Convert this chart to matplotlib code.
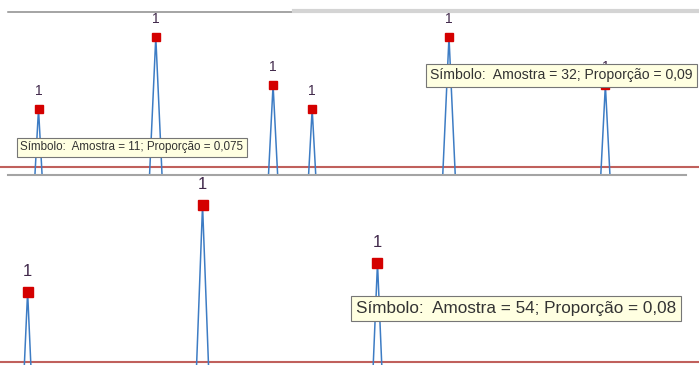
import matplotlib
matplotlib.use("Agg")
import matplotlib.pyplot as plt
from matplotlib.lines import Line2D

# top strip of the p chart (samples 8..46)
samples_top = list(range(8, 47))
prop_top = [0.01, 0.005, 0.0, 0.075, 0.0, 0.01, 0.005, 0.01, 0.0, 0.09,
            0.0, 0.005, 0.01, 0.005, 0.0, 0.08, 0.0, 0.075, 0.0, 0.01,
            0.005, 0.01, 0.005, 0.0, 0.09, 0.0, 0.01, 0.005, 0.01, 0.005,
            0.01, 0.0, 0.08, 0.0, 0.005, 0.01, 0.005, 0.01, 0.005]

# bottom strip (samples 33..72)
samples_bot = list(range(33, 73))
prop_bot = [0.01, 0.005, 0.0, 0.075, 0.0, 0.01, 0.005, 0.01, 0.005, 0.01,
            0.005, 0.0, 0.09, 0.0, 0.01, 0.005, 0.01, 0.005, 0.01, 0.005,
            0.0, 0.08, 0.0, 0.005, 0.01, 0.005, 0.01, 0.005, 0.01, 0.005,
            0.01, 0.005, 0.01, 0.005, 0.01, 0.005, 0.01, 0.005, 0.01, 0.005]

ucl = 0.063

tips_top = ["Símbolo:  Amostra = 11; Proporção = 0,075",
            "Símbolo:  Amostra = 32; Proporção = 0,09"]
tip_bot = "Símbolo:  Amostra = 54; Proporção = 0,08"

W, H = 699, 365
fig = plt.figure(figsize=(W / 100, H / 100), dpi=100)
plt.rcParams['font.family'] = ['Liberation Sans', 'DejaVu Sans']

ax1 = fig.add_axes([0, 1 - 174 / H, 1, 174 / H])
ax2 = fig.add_axes([0, 0, 1, 190 / H])


def panel(ax, xs, ys, xlim, ylim, msize, fs, off):
    ax.plot(xs, ys, color='#3d7cc4', lw=1.1, zorder=2)
    ax.axhline(ucl, color='#c0605c', lw=1.5, zorder=1)
    out_x = [x for x, y in zip(xs, ys) if y > ucl]
    out_y = [y for y in ys if y > ucl]
    ax.plot(out_x, out_y, 's', color='#d40000', ms=msize, mec='#d40000', zorder=3)
    for x, y in zip(out_x, out_y):
        ax.annotate("1", (x, y), xytext=(0, off), textcoords='offset points',
                    ha='center', va='center', fontsize=fs, color='#40284a')
    ax.set_xlim(*xlim)
    ax.set_ylim(*ylim)
    ax.axis('off')


panel(ax1, samples_top, prop_top, (9.03, 44.79), (0.06146, 0.09771), 5.8, 10, 13)
panel(ax2, samples_bot, prop_bot, (34.58, 70.54), (0.06241, 0.09517), 7.2, 12, 15)

# window borders between the two screenshots
def hline(x0, x1, y, color, lw):
    fig.add_artist(Line2D([x0 / W, x1 / W], [1 - y / H, 1 - y / H],
                          color=color, lw=lw, transform=fig.transFigure))

hline(8, 294, 11.5, '#8c8c8c', 1.1)
hline(294, 699, 11, '#d4d4d4', 3)
hline(8, 686, 174.5, '#a4a4a4', 1.5)

box = dict(boxstyle='square,pad=0.3', fc='#ffffe1', ec='#767676', lw=0.8)
fig.text(20.5 / W, 1 - 147 / H, tips_top[0], ha='left', va='center',
         fontsize=8.4, color='#333333', bbox=box)
fig.text(430.5 / W, 1 - 75.5 / H, tips_top[1], ha='left', va='center',
         fontsize=10.1, color='#333333', bbox=box)
fig.text(356 / W, 1 - 308.5 / H, tip_bot, ha='left', va='center',
         fontsize=12.3, color='#333333', bbox=box)

fig.savefig("out.png", dpi=100)
